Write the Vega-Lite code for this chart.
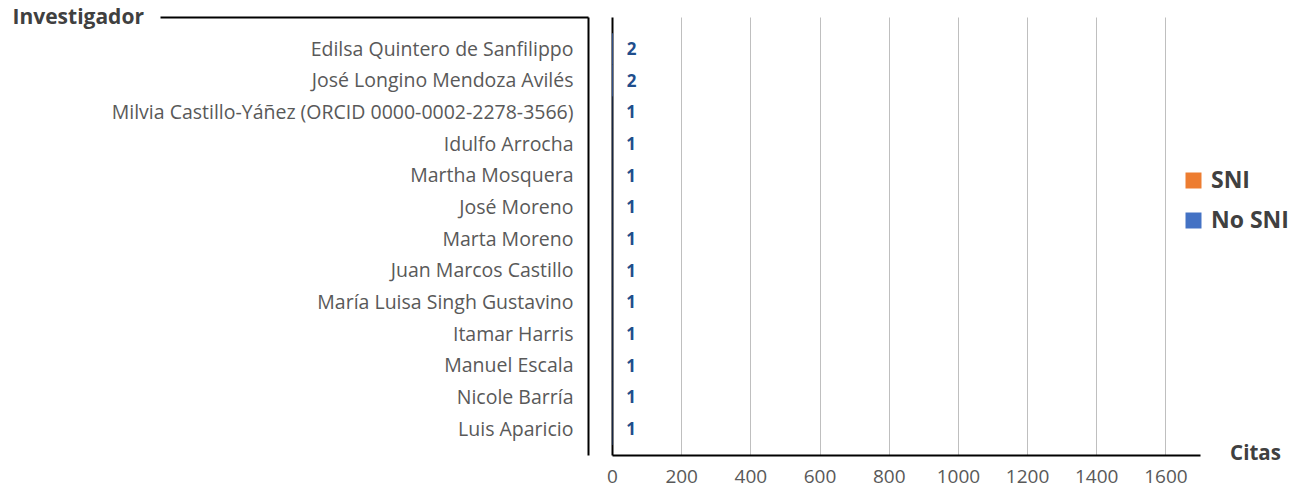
{
  "$schema": "https://vega.github.io/schema/vega-lite/v6.json",
  "width": 588,
  "height": 438,
  "autosize": {"type": "none"},
  "padding": {"left": 612, "top": 17, "right": 95, "bottom": 35},
  "background": "white",
  "config": {"font": "Open Sans", "view": {"stroke": null}},
  "data": {
    "values": [
      {"investigador": "Edilsa Quintero de Sanfilippo", "citas": 2, "grupo": "No SNI"},
      {"investigador": "José Longino Mendoza Avilés", "citas": 2, "grupo": "No SNI"},
      {"investigador": "Milvia Castillo-Yáñez (ORCID 0000-0002-2278-3566)", "citas": 1, "grupo": "No SNI"},
      {"investigador": "Idulfo Arrocha", "citas": 1, "grupo": "No SNI"},
      {"investigador": "Martha Mosquera", "citas": 1, "grupo": "No SNI"},
      {"investigador": "José Moreno", "citas": 1, "grupo": "No SNI"},
      {"investigador": "Marta  Moreno", "citas": 1, "grupo": "No SNI"},
      {"investigador": "Juan Marcos Castillo", "citas": 1, "grupo": "No SNI"},
      {"investigador": "María Luisa Singh Gustavino", "citas": 1, "grupo": "No SNI"},
      {"investigador": "Itamar Harris", "citas": 1, "grupo": "No SNI"},
      {"investigador": "Manuel Escala", "citas": 1, "grupo": "No SNI"},
      {"investigador": "Nicole Barría", "citas": 1, "grupo": "No SNI"},
      {"investigador": "Luis Aparicio", "citas": 1, "grupo": "No SNI"}
    ]
  },
  "encoding": {
    "y": {
      "field": "investigador",
      "type": "nominal",
      "sort": null,
      "scale": {"paddingInner": 0, "paddingOuter": 0.415, "align": 0.615},
      "axis": {
        "title": "Investigador",
        "titleX": -576,
        "titleY": 0,
        "titleAngle": 0,
        "titleAlign": "left",
        "titleBaseline": "middle",
        "titleFontSize": 21,
        "titleFontWeight": "bold",
        "titleColor": "#404040",
        "offset": 24,
        "domainColor": "black",
        "domainWidth": 2,
        "tickSize": 428,
        "tickWidth": 2,
        "tickColor": "black",
        "tickOpacity": {"condition": {"test": "datum.value === 'Edilsa Quintero de Sanfilippo'", "value": 1}, "value": 0},
        "tickOffset": -32,
        "labelOffset": 32,
        "labelPadding": -413,
        "labelFontSize": 19.5,
        "labelColor": "#595959",
        "labelLimit": 0,
        "grid": false
      }
    }
  },
  "layer": [
    {
      "mark": {"type": "bar"},
      "encoding": {
        "x": {
          "field": "citas",
          "type": "quantitative",
          "scale": {"domain": [0, 1700], "nice": false},
          "axis": {
            "values": [0, 200, 400, 600, 800, 1000, 1200, 1400, 1600],
            "format": "d",
            "title": "Citas",
            "titleX": 643,
            "titleY": -2,
            "titleAlign": "center",
            "titleBaseline": "middle",
            "titleFontSize": 20.5,
            "titleFontWeight": "bold",
            "titleColor": "#404040",
            "domainColor": "black",
            "domainWidth": 2,
            "ticks": false,
            "labelPadding": 12,
            "labelFontSize": 19,
            "labelColor": "#595959",
            "labelFlush": false,
            "grid": true,
            "gridColor": {"condition": {"test": "datum.value === 0", "value": "black"}, "value": "#BFBFBF"},
            "gridWidth": {"condition": {"test": "datum.value === 0", "value": 2}, "value": 1}
          }
        },
        "color": {
          "field": "grupo",
          "type": "nominal",
          "scale": {"domain": ["SNI", "No SNI"], "range": ["#ED7D31", "#4472C4"]},
          "legend": {
            "orient": "none",
            "legendX": 570,
            "legendY": 152,
            "title": null,
            "symbolType": "square",
            "symbolSize": 256,
            "symbolStrokeWidth": 0,
            "labelFontSize": 23,
            "labelFontWeight": "bold",
            "labelColor": "#404040",
            "rowPadding": 16,
            "labelOffset": 6
          }
        }
      }
    },
    {
      "mark": {"type": "text", "align": "left", "dx": 14, "dy": 1, "fontWeight": "bold", "fontSize": 17, "color": "#1F4E8C"},
      "encoding": {
        "x": {"field": "citas", "type": "quantitative"},
        "text": {"field": "citas"}
      }
    }
  ]
}
